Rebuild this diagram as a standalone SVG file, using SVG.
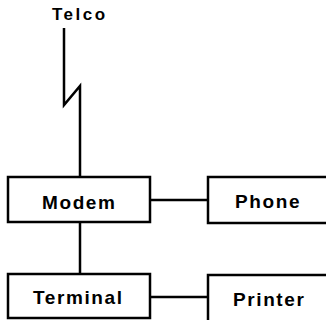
<svg xmlns="http://www.w3.org/2000/svg" width="326" height="320" viewBox="0 0 326 320">
<style>
.box{fill:#fff;stroke:#000;stroke-width:2.5}
.ln{fill:none;stroke:#000;stroke-width:2.5}
.t{font-family:"Liberation Sans",Arial,sans-serif;font-weight:bold;font-size:19px;letter-spacing:1.6px;fill:#000}
</style>
<rect width="326" height="320" fill="#fff"/>
<g id="connectors">
<polyline class="ln" points="64,28 64,105 80,86 80,177"/>
<line class="ln" x1="80" y1="222" x2="80" y2="274"/>
<line class="ln" x1="150" y1="200" x2="208" y2="200"/>
<line class="ln" x1="150" y1="297" x2="208" y2="297"/>
</g>
<g id="telco"><text class="t" x="52" y="20" style="font-size:17px;letter-spacing:2.5px">Telco</text></g>
<g id="modem"><rect class="box" x="8" y="177" width="142" height="45"/><text class="t" x="42" y="209">Modem</text></g>
<g id="phone"><rect class="box" x="208" y="177" width="130" height="46"/><text class="t" x="235" y="208">Phone</text></g>
<g id="terminal"><rect class="box" x="8" y="274" width="142" height="44"/><text class="t" x="33" y="304">Terminal</text></g>
<g id="printer"><rect class="box" x="208" y="275" width="130" height="50"/><text class="t" x="233" y="306">Printer</text></g>
</svg>
